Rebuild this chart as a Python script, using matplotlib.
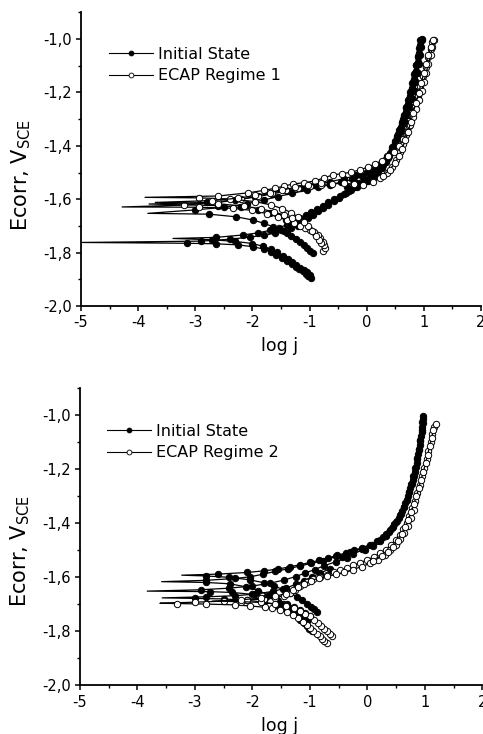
import matplotlib
matplotlib.use("Agg")
from matplotlib import pyplot as plt
from matplotlib.lines import Line2D
from matplotlib.ticker import MultipleLocator, FuncFormatter

# --- donnees : (log j, E) point par point, une liste par courbe ---
# panneau du haut : etat initial (points pleins)
top_init_1 = [(-0.97, -1.896), (-1.02, -1.888), (-1.07, -1.879), (-1.12, -1.870), (-1.18, -1.862), (-1.24, -1.853),
              (-1.31, -1.843), (-1.39, -1.832), (-1.48, -1.820), (-1.58, -1.808), (-1.68, -1.797), (-1.80, -1.787),
              (-1.99, -1.778), (-2.25, -1.771), (-2.64, -1.767), (-3.15, -1.765), (-5.00, -1.762),
              (-2.90, -1.757), (-2.40, -1.750), (-2.05, -1.742), (-1.80, -1.735), (-1.60, -1.727), (-1.45, -1.718),
              (-1.33, -1.706), (-1.22, -1.694), (-1.12, -1.683), (-1.03, -1.671), (-0.94, -1.659), (-0.85, -1.646),
              (-0.76, -1.633), (-0.67, -1.620), (-0.58, -1.607), (-0.49, -1.594), (-0.40, -1.581), (-0.31, -1.568),
              (-0.22, -1.555), (-0.13, -1.543), (-0.04, -1.532), (0.05, -1.520), (0.13, -1.505), (0.21, -1.488),
              (0.28, -1.470), (0.34, -1.450), (0.40, -1.428), (0.45, -1.405), (0.50, -1.382), (0.55, -1.356),
              (0.60, -1.328), (0.64, -1.300), (0.68, -1.272), (0.72, -1.243), (0.76, -1.213), (0.80, -1.182),
              (0.83, -1.150), (0.86, -1.118), (0.89, -1.085), (0.915, -1.052), (0.94, -1.022), (0.96, -1.000)]
top_init_2 = [(-1.00, -1.882), (-1.05, -1.874), (-1.10, -1.866), (-1.16, -1.857), (-1.23, -1.847), (-1.30, -1.836),
              (-1.38, -1.824), (-1.47, -1.811), (-1.57, -1.798), (-1.68, -1.787), (-1.82, -1.776), (-2.00, -1.766),
              (-2.30, -1.758), (-2.70, -1.752), (-3.39, -1.747),
              (-2.64, -1.743), (-2.17, -1.734), (-1.90, -1.726), (-1.70, -1.717), (-1.54, -1.707), (-1.40, -1.696),
              (-1.28, -1.684), (-1.17, -1.672), (-1.07, -1.660), (-0.97, -1.648), (-0.87, -1.636), (-0.77, -1.624),
              (-0.67, -1.612), (-0.57, -1.600), (-0.47, -1.588), (-0.37, -1.577), (-0.27, -1.566), (-0.17, -1.554),
              (-0.07, -1.542), (0.03, -1.530), (0.12, -1.516), (0.20, -1.500), (0.27, -1.482), (0.33, -1.462),
              (0.39, -1.440), (0.44, -1.417), (0.49, -1.393), (0.53, -1.368), (0.57, -1.342), (0.61, -1.315),
              (0.65, -1.287), (0.69, -1.258), (0.73, -1.228), (0.76, -1.197), (0.80, -1.165), (0.83, -1.132),
              (0.86, -1.099), (0.89, -1.066), (0.91, -1.034), (0.93, -1.005)]
top_init_3 = [(-0.94, -1.803), (-0.99, -1.793), (-1.04, -1.783), (-1.10, -1.772), (-1.17, -1.760), (-1.24, -1.748),
              (-1.32, -1.737), (-1.40, -1.727), (-1.50, -1.716), (-1.64, -1.703), (-1.80, -1.690), (-1.99, -1.678),
              (-2.28, -1.666), (-2.76, -1.656), (-3.83, -1.653),
              (-3.00, -1.640), (-2.50, -1.630), (-2.10, -1.617), (-1.80, -1.603), (-1.55, -1.590), (-1.30, -1.578),
              (-1.05, -1.566), (-0.85, -1.556), (-0.65, -1.546), (-0.45, -1.536), (-0.25, -1.526), (-0.08, -1.514),
              (0.07, -1.500), (0.19, -1.484), (0.29, -1.465), (0.38, -1.444), (0.46, -1.421), (0.53, -1.396),
              (0.59, -1.370), (0.64, -1.343), (0.69, -1.315), (0.73, -1.286), (0.77, -1.256), (0.81, -1.225),
              (0.84, -1.193), (0.87, -1.160), (0.90, -1.126), (0.92, -1.092), (0.94, -1.058), (0.955, -1.028),
              (0.97, -1.002)]
top_init_4 = [(-1.20, -1.700), (-1.30, -1.688), (-1.42, -1.676), (-1.55, -1.664), (-1.70, -1.652), (-1.90, -1.641),
              (-2.20, -1.631), (-2.60, -1.624), (-3.81, -1.618),
              (-2.80, -1.612), (-2.30, -1.603), (-1.95, -1.592), (-1.65, -1.580), (-1.40, -1.569), (-1.15, -1.558),
              (-0.90, -1.546), (-0.65, -1.535), (-0.40, -1.523), (-0.18, -1.511), (0.00, -1.498), (0.14, -1.482),
              (0.26, -1.462), (0.35, -1.440)]
top_init_5 = [(-0.35, -1.553), (-0.20, -1.537), (-0.05, -1.523), (0.08, -1.508), (0.18, -1.492), (0.26, -1.474),
              (0.33, -1.455), (0.39, -1.434), (0.44, -1.412), (0.49, -1.389), (0.53, -1.364), (0.575, -1.338),
              (0.615, -1.311), (0.655, -1.283), (0.695, -1.254), (0.735, -1.224), (0.77, -1.193), (0.81, -1.161),
              (0.84, -1.129), (0.87, -1.096), (0.90, -1.063), (0.925, -1.031), (0.95, -1.005)]

# panneau du haut : ECAP regime 1 (points vides)
top_ecap_1 = [(-0.76, -1.793), (-0.73, -1.783), (-0.74, -1.771), (-0.77, -1.759), (-0.81, -1.746), (-0.86, -1.734),
              (-0.92, -1.724), (-0.99, -1.715), (-1.08, -1.707), (-1.17, -1.699), (-1.28, -1.689), (-1.40, -1.679),
              (-1.55, -1.667), (-1.75, -1.654), (-2.00, -1.642), (-2.34, -1.634), (-2.94, -1.630), (-4.28, -1.629),
              (-3.20, -1.622), (-2.60, -1.612), (-2.20, -1.600), (-1.90, -1.588), (-1.65, -1.576), (-1.42, -1.566),
              (-1.20, -1.557), (-1.00, -1.550), (-0.80, -1.545), (-0.60, -1.542), (-0.40, -1.541), (-0.22, -1.543),
              (-0.06, -1.547), (0.11, -1.535), (0.24, -1.520), (0.35, -1.500), (0.44, -1.478), (0.52, -1.452),
              (0.58, -1.424), (0.64, -1.393), (0.69, -1.360), (0.74, -1.326), (0.79, -1.290), (0.84, -1.253),
              (0.89, -1.215), (0.94, -1.177), (0.99, -1.140), (1.04, -1.103), (1.08, -1.068), (1.12, -1.037),
              (1.15, -1.012)]
top_ecap_2 = [(-0.80, -1.765), (-0.84, -1.751), (-0.89, -1.736), (-0.95, -1.719), (-1.02, -1.701), (-1.10, -1.684),
              (-1.20, -1.667), (-1.32, -1.650), (-1.48, -1.635), (-1.68, -1.621), (-1.95, -1.609), (-2.40, -1.599),
              (-2.94, -1.595), (-3.88, -1.593),
              (-2.60, -1.588), (-2.07, -1.576), (-1.80, -1.567), (-1.61, -1.559), (-1.45, -1.551), (-1.29, -1.543),
              (-1.10, -1.538), (-0.91, -1.532), (-0.75, -1.520), (-0.59, -1.509), (-0.43, -1.504), (-0.27, -1.499),
              (-0.12, -1.490), (0.02, -1.480), (0.15, -1.468), (0.27, -1.455), (0.38, -1.440), (0.48, -1.422),
              (0.57, -1.400), (0.64, -1.376), (0.70, -1.350), (0.76, -1.322), (0.81, -1.293), (0.86, -1.262),
              (0.91, -1.230), (0.96, -1.196), (1.00, -1.162), (1.04, -1.128), (1.08, -1.094), (1.12, -1.060),
              (1.15, -1.030), (1.18, -1.003)]
top_ecap_3 = [(-1.30, -1.672), (-1.45, -1.660), (-1.62, -1.648), (-1.85, -1.636), (-2.15, -1.626), (-2.60, -1.617),
              (-3.70, -1.612), (-2.70, -1.605), (-2.25, -1.596), (-1.95, -1.586), (-1.70, -1.575), (-1.48, -1.565),
              (-1.25, -1.556), (-1.02, -1.548), (-0.80, -1.540)]
top_ecap_4 = [(0.28, -1.512), (0.40, -1.490), (0.49, -1.466), (0.56, -1.440), (0.62, -1.411), (0.675, -1.380),
              (0.725, -1.347), (0.77, -1.312), (0.815, -1.276), (0.86, -1.240), (0.91, -1.202), (0.955, -1.165),
              (1.00, -1.128), (1.04, -1.092), (1.08, -1.058), (1.12, -1.028), (1.165, -1.005)]

# panneau du bas : etat initial (points pleins)
bot_init_1 = [(-0.88, -1.727), (-0.93, -1.718), (-0.99, -1.708), (-1.06, -1.697), (-1.14, -1.685), (-1.23, -1.672),
              (-1.34, -1.658), (-1.47, -1.645), (-1.62, -1.632), (-1.80, -1.620), (-2.05, -1.609), (-2.40, -1.600),
              (-2.80, -1.595), (-3.23, -1.592),
              (-2.60, -1.588), (-2.10, -1.582), (-1.80, -1.576), (-1.55, -1.569), (-1.35, -1.561), (-1.17, -1.553),
              (-1.00, -1.545), (-0.84, -1.537), (-0.68, -1.528), (-0.53, -1.519), (-0.38, -1.510), (-0.23, -1.500),
              (-0.09, -1.490), (0.04, -1.479), (0.16, -1.466), (0.27, -1.451), (0.37, -1.433), (0.45, -1.413),
              (0.52, -1.390), (0.58, -1.366), (0.63, -1.340), (0.68, -1.313), (0.72, -1.285), (0.76, -1.256),
              (0.80, -1.226), (0.83, -1.195), (0.86, -1.163), (0.89, -1.130), (0.92, -1.096), (0.94, -1.062),
              (0.96, -1.030), (0.97, -1.002)]
bot_init_2 = [(-0.97, -1.800), (-1.02, -1.790), (-1.06, -1.781), (-1.11, -1.770), (-1.17, -1.758), (-1.23, -1.745),
              (-1.30, -1.731), (-1.38, -1.716), (-1.47, -1.700), (-1.58, -1.683), (-1.72, -1.666), (-1.90, -1.649),
              (-2.12, -1.635), (-2.39, -1.624), (-2.80, -1.619), (-3.58, -1.616),
              (-2.80, -1.611), (-2.30, -1.604), (-2.04, -1.598), (-1.81, -1.588), (-1.60, -1.578), (-1.38, -1.568),
              (-1.17, -1.558), (-0.98, -1.548), (-0.77, -1.538), (-0.54, -1.522), (-0.30, -1.507), (-0.10, -1.494),
              (0.08, -1.479), (0.22, -1.461), (0.33, -1.440), (0.42, -1.418), (0.50, -1.394), (0.57, -1.368),
              (0.63, -1.341), (0.68, -1.313), (0.73, -1.284), (0.77, -1.254), (0.81, -1.223), (0.84, -1.191),
              (0.87, -1.158), (0.90, -1.124), (0.92, -1.090), (0.94, -1.056), (0.955, -1.025)]
bot_init_3 = [(-1.00, -1.745), (-1.08, -1.733), (-1.17, -1.722), (-1.27, -1.710), (-1.40, -1.698), (-1.56, -1.686),
              (-1.76, -1.673), (-2.00, -1.663), (-2.35, -1.656), (-2.74, -1.653), (-3.83, -1.651),
              (-2.90, -1.646), (-2.40, -1.640), (-2.00, -1.632), (-1.70, -1.622), (-1.45, -1.610), (-1.25, -1.597),
              (-1.08, -1.584), (-0.92, -1.571), (-0.75, -1.557), (-0.55, -1.542), (-0.35, -1.527)]
bot_init_4 = [(-1.05, -1.760), (-1.12, -1.748), (-1.20, -1.737), (-1.30, -1.726), (-1.42, -1.714), (-1.58, -1.702),
              (-1.80, -1.692), (-2.10, -1.685), (-2.50, -1.680), (-3.00, -1.678), (-3.57, -1.676),
              (-2.80, -1.672), (-2.30, -1.668), (-1.95, -1.662), (-1.65, -1.652), (-1.42, -1.640), (-1.25, -1.626),
              (-1.10, -1.612), (-0.96, -1.598), (-0.82, -1.584), (-0.66, -1.569)]
bot_init_5 = [(-0.45, -1.525), (-0.25, -1.512), (-0.05, -1.497), (0.10, -1.483), (0.22, -1.466), (0.32, -1.447),
              (0.40, -1.426), (0.47, -1.403), (0.54, -1.379), (0.60, -1.353), (0.655, -1.326), (0.70, -1.298),
              (0.745, -1.269), (0.785, -1.239), (0.82, -1.208), (0.855, -1.176), (0.885, -1.143), (0.91, -1.109),
              (0.93, -1.075), (0.95, -1.043), (0.965, -1.015)]

# panneau du bas : ECAP regime 2 (points vides)
bot_ecap_1 = [(-0.71, -1.842), (-0.75, -1.835), (-0.79, -1.827), (-0.83, -1.819), (-0.88, -1.809), (-0.94, -1.798),
              (-1.00, -1.787), (-1.06, -1.776), (-1.13, -1.764), (-1.21, -1.752), (-1.30, -1.740), (-1.40, -1.729),
              (-1.52, -1.720), (-1.66, -1.713), (-1.78, -1.711), (-2.04, -1.706), (-2.30, -1.702), (-2.80, -1.699),
              (-3.32, -1.697), (-3.61, -1.696),
              (-3.00, -1.692), (-2.50, -1.688), (-2.10, -1.684), (-1.80, -1.680), (-1.60, -1.675), (-1.45, -1.668),
              (-1.35, -1.658), (-1.26, -1.646), (-1.17, -1.633), (-1.06, -1.619), (-0.95, -1.607), (-0.83, -1.598),
              (-0.71, -1.590), (-0.59, -1.582), (-0.48, -1.574), (-0.36, -1.565), (-0.25, -1.556), (-0.13, -1.546),
              (-0.01, -1.536), (0.11, -1.524), (0.22, -1.511), (0.32, -1.497), (0.41, -1.481), (0.49, -1.463),
              (0.56, -1.443), (0.62, -1.421), (0.68, -1.397), (0.73, -1.371), (0.78, -1.344), (0.83, -1.316),
              (0.87, -1.287), (0.91, -1.257), (0.95, -1.226), (0.99, -1.195), (1.03, -1.163), (1.06, -1.131),
              (1.10, -1.099), (1.13, -1.068), (1.16, -1.043), (1.19, -1.032)]
bot_ecap_2 = [(-0.62, -1.817), (-0.66, -1.809), (-0.70, -1.800), (-0.75, -1.790), (-0.80, -1.780), (-0.86, -1.769),
              (-0.93, -1.757), (-1.00, -1.745), (-1.08, -1.734), (-1.17, -1.724), (-1.28, -1.714), (-1.42, -1.705),
              (-1.60, -1.698), (-1.85, -1.693), (-2.20, -1.690), (-2.70, -1.688),
              (-2.20, -1.683), (-1.85, -1.677), (-1.60, -1.670), (-1.42, -1.660), (-1.30, -1.648), (-1.20, -1.636),
              (-1.10, -1.624), (-0.98, -1.612), (-0.85, -1.603), (-0.70, -1.596), (-0.55, -1.589), (-0.40, -1.581),
              (-0.25, -1.571), (-0.10, -1.560), (0.05, -1.548), (0.18, -1.534), (0.30, -1.518), (0.40, -1.500),
              (0.49, -1.480), (0.57, -1.458), (0.64, -1.434), (0.70, -1.408), (0.76, -1.380), (0.81, -1.350)]
bot_ecap_3 = [(0.10, -1.540), (0.25, -1.522), (0.36, -1.505), (0.45, -1.486), (0.53, -1.465), (0.595, -1.441),
              (0.655, -1.415), (0.71, -1.387), (0.76, -1.358), (0.805, -1.329), (0.85, -1.300), (0.89, -1.270),
              (0.93, -1.240), (0.97, -1.210), (1.01, -1.178), (1.045, -1.146), (1.08, -1.114), (1.115, -1.083),
              (1.145, -1.055)]

xticks = [-5, -4, -3, -2, -1, 0, 1, 2]
yticks = [-2.0, -1.8, -1.6, -1.4, -1.2, -1.0]
legend_top = ["Initial State", "ECAP Regime 1"]
legend_bot = ["Initial State", "ECAP Regime 2"]

plt.rcParams['font.family'] = ['DejaVu Sans']
plt.rcParams['axes.unicode_minus'] = False


def trace(ax, pts, face):
    x = [p[0] for p in pts]
    y = [p[1] for p in pts]
    garde = list(range(len(x)))
    if min(x) < -2.5:
        garde.remove(x.index(min(x)))  # pas de marqueur au bout du pic
    ax.plot(x, y, color='black', lw=0.9, marker='o', ms=4.6, mfc=face, mec='black', mew=0.7,
            markevery=garde)


def habille(ax, noms, leg_x, leg_y, lab_y):
    ax.set_xlim(-5, 2)
    ax.set_ylim(-2.0, -0.9)
    ax.spines['top'].set_visible(False)
    ax.spines['right'].set_visible(False)
    ax.spines['left'].set_linewidth(1.3)
    ax.spines['bottom'].set_linewidth(1.3)
    ax.set_xticks(xticks)
    ax.set_yticks(yticks)
    ax.xaxis.set_minor_locator(MultipleLocator(0.5))
    ax.yaxis.set_minor_locator(MultipleLocator(0.1))
    ax.yaxis.set_major_formatter(FuncFormatter(lambda v, p: ("%.1f" % v).replace(".", ",")))
    ax.xaxis.set_major_formatter(FuncFormatter(lambda v, p: "%d" % v))
    ax.tick_params(which='major', direction='out', length=3.8, width=1.1, labelsize=10.5, pad=3)
    ax.tick_params(which='minor', direction='out', length=2, width=1.0)
    ax.set_xlabel("log j", fontsize=12.5)
    ax.set_ylabel(r"Ecorr, V$_{\mathregular{SCE}}$", fontsize=15)
    ax.yaxis.set_label_coords(-0.12, lab_y)
    ax.xaxis.set_label_coords(0.497, -0.105)
    poignees = [Line2D([], [], color='black', lw=0.8, marker='o', ms=3.5, mfc='black', mec='black', mew=0.6),
                Line2D([], [], color='black', lw=0.8, marker='o', ms=3.5, mfc='white', mec='black', mew=0.6)]
    ax.legend(poignees, noms, loc='upper left', bbox_to_anchor=(leg_x, leg_y), frameon=False,
              fontsize=11.5, borderpad=0, borderaxespad=0, handlelength=2.75, handletextpad=0.3,
              labelspacing=0.4)


fig = plt.figure(figsize=(4.83, 7.34), dpi=100)
ax1 = fig.add_axes([0.1677, 0.5831, 0.828, 0.4001])
ax2 = fig.add_axes([0.1656, 0.0663, 0.8333, 0.4046])

#courbes du haut : d'abord les pleins puis les vides par dessus
for c in [top_init_1, top_init_2, top_init_3, top_init_4, top_init_5]:
    trace(ax1, c, 'black')
for c in [top_ecap_1, top_ecap_2, top_ecap_3, top_ecap_4]:
    trace(ax1, c, 'white')
habille(ax1, legend_top, 0.07, 0.882, 0.447)

#courbes du bas
for c in [bot_init_1, bot_init_2, bot_init_3, bot_init_4, bot_init_5]:
    trace(ax2, c, 'black')
for c in [bot_ecap_1, bot_ecap_2, bot_ecap_3]:
    trace(ax2, c, 'white')
habille(ax2, legend_bot, 0.0675, 0.88, 0.453)

fig.savefig("out.png", dpi=100)
